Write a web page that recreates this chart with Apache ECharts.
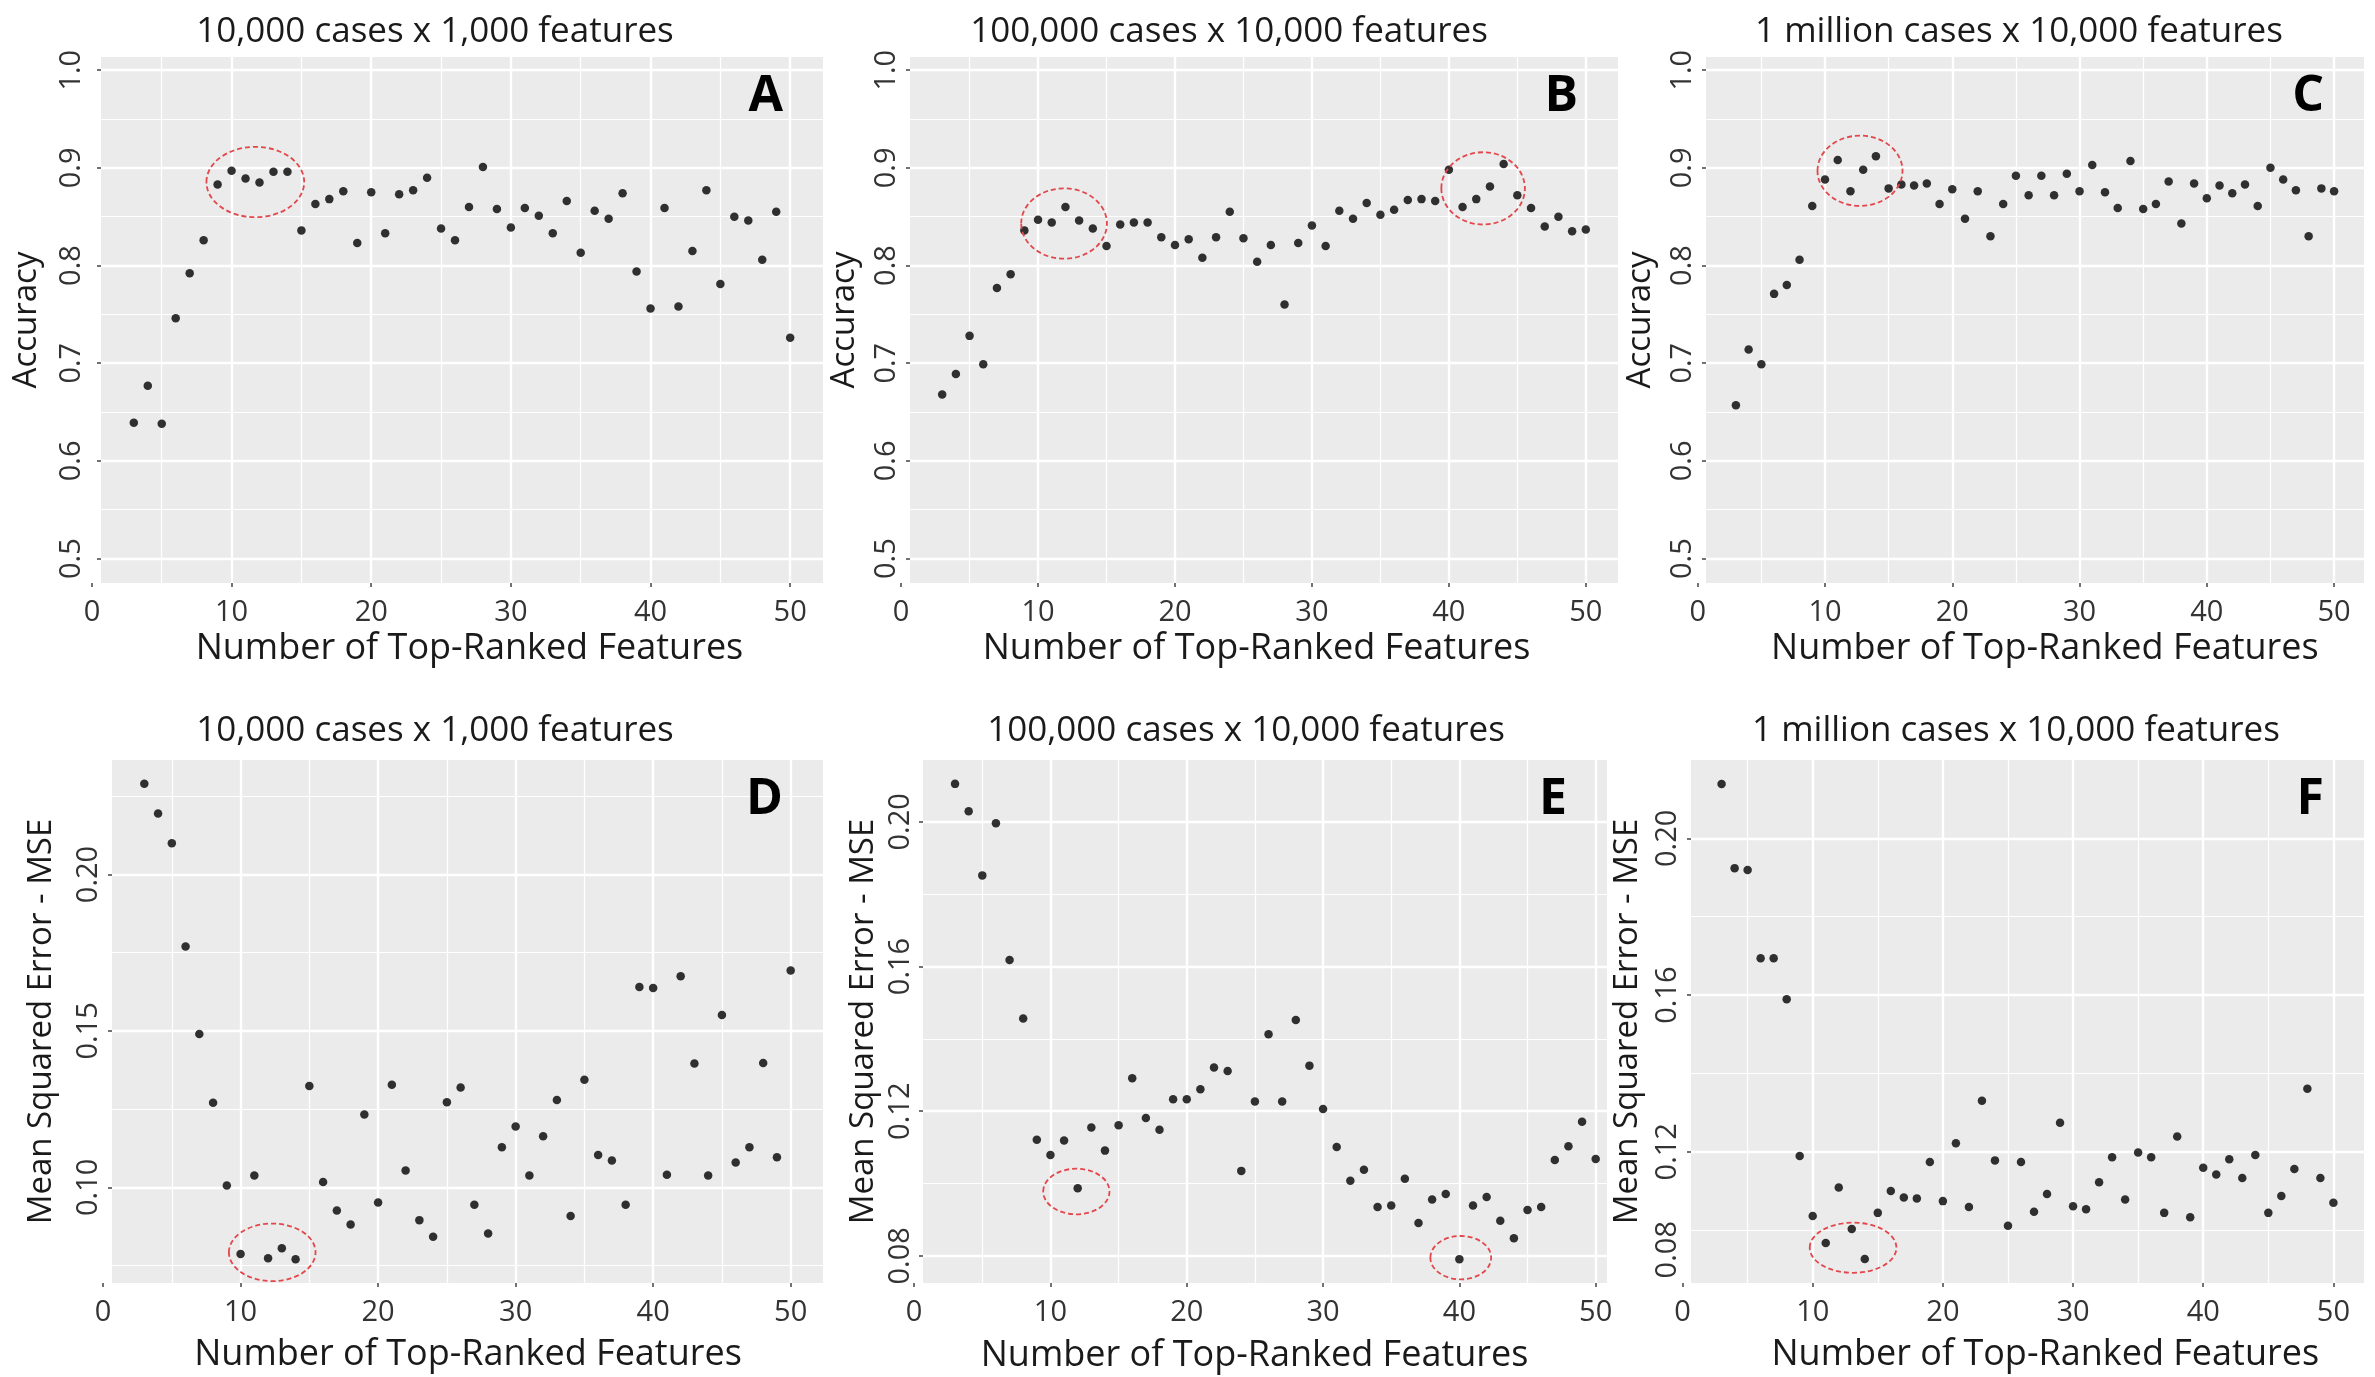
<!DOCTYPE html>
<html>
<head>
<meta charset="utf-8">
<script src="https://cdn.jsdelivr.net/npm/echarts@6/dist/echarts.min.js"></script>
<style>
  html, body { margin: 0; padding: 0; background: #ffffff; }
  #chart { width: 2375px; height: 1377px; }
</style>
</head>
<body>
<div id="chart"></div>
<script>
// number of top-ranked features (x of every panel)
const features = [3, 4, 5, 6, 7, 8, 9, 10, 11, 12, 13, 14, 15, 16, 17, 18, 19, 20, 21, 22, 23, 24, 25, 26,
                  27, 28, 29, 30, 31, 32, 33, 34, 35, 36, 37, 38, 39, 40, 41, 42, 43, 44, 45, 46, 47, 48, 49, 50];

// accuracy, top row
const accuracyA = [0.639, 0.677, 0.638, 0.746, 0.792, 0.826, 0.883, 0.897, 0.889, 0.885, 0.896, 0.896,
                   0.836, 0.863, 0.868, 0.876, 0.823, 0.875, 0.833, 0.873, 0.877, 0.890, 0.838, 0.826,
                   0.860, 0.901, 0.858, 0.839, 0.859, 0.851, 0.833, 0.866, 0.813, 0.856, 0.848, 0.874,
                   0.794, 0.756, 0.859, 0.758, 0.815, 0.877, 0.781, 0.850, 0.846, 0.806, 0.855, 0.726];
const accuracyB = [0.668, 0.689, 0.728, 0.699, 0.777, 0.791, 0.836, 0.847, 0.844, 0.860, 0.846, 0.838,
                   0.820, 0.842, 0.844, 0.844, 0.829, 0.821, 0.827, 0.808, 0.829, 0.855, 0.828, 0.804,
                   0.821, 0.760, 0.823, 0.841, 0.820, 0.856, 0.848, 0.864, 0.852, 0.857, 0.867, 0.868,
                   0.866, 0.898, 0.860, 0.868, 0.881, 0.904, 0.872, 0.859, 0.840, 0.850, 0.835, 0.837];
const accuracyC = [0.657, 0.714, 0.699, 0.771, 0.780, 0.806, 0.861, 0.888, 0.908, 0.876, 0.898, 0.912,
                   0.879, 0.883, 0.882, 0.884, 0.863, 0.878, 0.848, 0.876, 0.830, 0.863, 0.892, 0.872,
                   0.892, 0.872, 0.894, 0.876, 0.903, 0.875, 0.859, 0.907, 0.858, 0.863, 0.886, 0.843,
                   0.884, 0.869, 0.882, 0.874, 0.883, 0.861, 0.900, 0.888, 0.877, 0.830, 0.879, 0.876];

// mean squared error, bottom row
const mseD = [0.2290, 0.2195, 0.2100, 0.1770, 0.1490, 0.1270, 0.1006, 0.0787, 0.1038, 0.0773, 0.0805, 0.0770,
              0.1324, 0.1017, 0.0926, 0.0881, 0.1233, 0.0951, 0.1328, 0.1054, 0.0895, 0.0842, 0.1272, 0.1319,
              0.0944, 0.0852, 0.1128, 0.1194, 0.1038, 0.1163, 0.1279, 0.0908, 0.1344, 0.1103, 0.1086, 0.0944,
              0.1640, 0.1637, 0.1040, 0.1675, 0.1396, 0.1038, 0.1551, 0.1079, 0.1128, 0.1397, 0.1096, 0.1693];
const mseE = [0.2105, 0.2029, 0.1852, 0.1996, 0.1618, 0.1456, 0.1121, 0.1079, 0.1119, 0.0987, 0.1155, 0.1091,
              0.1161, 0.1291, 0.1181, 0.1149, 0.1233, 0.1233, 0.1261, 0.1321, 0.1311, 0.1035, 0.1227, 0.1413,
              0.1227, 0.1452, 0.1326, 0.1206, 0.1101, 0.1008, 0.1038, 0.0935, 0.0939, 0.1013, 0.0891, 0.0956,
              0.0971, 0.0791, 0.0939, 0.0963, 0.0897, 0.0849, 0.0927, 0.0935, 0.1065, 0.1103, 0.1171, 0.1068];
const mseF = [0.2139, 0.1924, 0.1919, 0.1694, 0.1694, 0.1589, 0.1189, 0.1036, 0.0967, 0.1109, 0.1003, 0.0926,
              0.1044, 0.1100, 0.1083, 0.1081, 0.1174, 0.1074, 0.1222, 0.1059, 0.1330, 0.1178, 0.1011, 0.1174,
              0.1047, 0.1092, 0.1274, 0.1061, 0.1053, 0.1122, 0.1186, 0.1078, 0.1198, 0.1186, 0.1044, 0.1239,
              0.1033, 0.1159, 0.1142, 0.1181, 0.1133, 0.1192, 0.1044, 0.1087, 0.1156, 0.1361, 0.1133, 0.1070];

// red dashed rings: [centre x, centre y, radius x, radius y] in data units
const ringsA = [[11.7, 0.8855, 3.5, 0.036]];
const ringsB = [[11.9, 0.843, 3.13, 0.036], [42.5, 0.879, 3.05, 0.037]];
const ringsC = [[12.75, 0.897, 3.34, 0.036]];
const ringsD = [[12.3, 0.0792, 3.15, 0.0092]];
const ringsE = [[11.9, 0.0978, 2.43, 0.0063], [40.1, 0.0795, 2.23, 0.006]];
const ringsF = [[13.1, 0.0955, 3.33, 0.0064]];

// ticks and grid lines
const featureTicks = [0, 10, 20, 30, 40, 50];
const featureMajor = [10, 20, 30, 40, 50];
const featureMinor = [5, 15, 25, 35, 45];
const accMajor = [0.5, 0.6, 0.7, 0.8, 0.9, 1.0];
const accMinor = [0.55, 0.65, 0.75, 0.85, 0.95];
const mseMajorD = [0.10, 0.15, 0.20];
const mseMinorD = [0.075, 0.125, 0.175, 0.225];
const mseMajorE = [0.08, 0.12, 0.16, 0.20];
const mseMinorE = [0.10, 0.14, 0.18];
const mseMajorF = [0.12, 0.16, 0.20];
const mseMinorF = [0.10, 0.14, 0.18];
// panel F prints its lowest label a bit above the panel bottom
const mseLabelsF = [0.095, 0.12, 0.16, 0.20];
const mseLabelTextF = ['0.08', '0.12', '0.16', '0.20'];

const titles = ['10,000 cases x 1,000 features', '100,000 cases x 10,000 features', '1 million cases x 10,000 features',
                '10,000 cases x 1,000 features', '100,000 cases x 10,000 features', '1 million cases x 10,000 features'];
const letters = ['A', 'B', 'C', 'D', 'E', 'F'];

const FONT = '"Open Sans", "Noto Sans", sans-serif';
const X_EDGE = 0.65;   // left end of the grey panel, in feature units

const panels = [
  {vals: accuracyA, rings: ringsA, yName: 'Accuracy', yMin: 0.475, yMax: 1.0135, yMajor: accMajor, yMinor: accMinor, yLabels: accMajor, digits: 1,
   box: {left: 101, right: 823, top: 57, bottom: 583}, xMax: 52.35, labelMargin: 15, nameGap: 58, xNameGap: 48, xNameShift: 12, titleX: 435, titleY: 32},
  {vals: accuracyB, rings: ringsB, yName: 'Accuracy', yMin: 0.475, yMax: 1.0135, yMajor: accMajor, yMinor: accMinor, yLabels: accMajor, digits: 1,
   box: {left: 910, right: 1618, top: 57, bottom: 583}, xMax: 52.35, labelMargin: 9, nameGap: 49, xNameGap: 48, xNameShift: -3, titleX: 1229, titleY: 32},
  {vals: accuracyC, rings: ringsC, yName: 'Accuracy', yMin: 0.475, yMax: 1.0135, yMajor: accMajor, yMinor: accMinor, yLabels: accMajor, digits: 1,
   box: {left: 1706, right: 2364, top: 57, bottom: 583}, xMax: 52.35, labelMargin: 9, nameGap: 49, xNameGap: 48, xNameShift: 14, titleX: 2019, titleY: 32},
  {vals: mseD, rings: ringsD, yName: 'Mean Squared Error - MSE', yMin: 0.0694, yMax: 0.2366, yMajor: mseMajorD, yMinor: mseMinorD, yLabels: mseMajorD, digits: 2,
   box: {left: 112, right: 823, top: 760, bottom: 1283}, xMax: 52.35, labelMargin: 9, nameGap: 54, xNameGap: 54, xNameShift: 5, titleX: 435, titleY: 731},
  {vals: mseE, rings: ringsE, yName: 'Mean Squared Error - MSE', yMin: 0.0725, yMax: 0.2171, yMajor: mseMajorE, yMinor: mseMinorE, yLabels: mseMajorE, digits: 2,
   box: {left: 923, right: 1607, top: 760, bottom: 1283}, xMax: 50.83, labelMargin: 8, nameGap: 43, xNameGap: 55, xNameShift: -6, titleX: 1246, titleY: 731},
  {vals: mseF, rings: ringsF, yName: 'Mean Squared Error - MSE', yMin: 0.0865, yMax: 0.2200, yMajor: mseMajorF, yMinor: mseMinorF, yLabels: mseLabelsF, labelText: mseLabelTextF, digits: 2,
   box: {left: 1691, right: 2364, top: 760, bottom: 1283}, xMax: 52.35, labelMargin: 9, nameGap: 47, xNameGap: 54, xNameShift: 22, titleX: 2016, titleY: 731}
];

const grid = [], xAxis = [], yAxis = [], series = [], title = [];

panels.forEach((p, i) => {
  const b = p.box;
  const s = (b.right - b.left) / (p.xMax - X_EDGE);
  const x0 = b.left - X_EDGE * s;   // pixel of feature 0, left of the grey panel
  const shift = p.xNameShift;

  grid.push({left: x0, top: b.top, width: b.right - x0, height: b.bottom - b.top, outerBoundsMode: 'none', containLabel: false});

  xAxis.push({
    type: 'value', gridIndex: i, min: 0, max: p.xMax,
    axisLine: {show: false, onZero: false},
    axisTick: {show: true, customValues: featureTicks, length: 4, lineStyle: {color: '#444', width: 1.5}},
    axisLabel: {customValues: featureTicks, margin: 15, fontSize: 29, color: '#333', fontFamily: FONT},
    splitLine: {show: false},
    name: 'Number of Top-Ranked Features', nameLocation: 'middle', nameGap: p.xNameGap,
    nameTextStyle: {fontSize: 36, color: '#1a1a1a', fontFamily: FONT,
      padding: shift > 0 ? [0, 0, 0, 2 * shift] : [0, -2 * shift, 0, 0]}
  });

  yAxis.push({
    type: 'value', gridIndex: i, min: p.yMin, max: p.yMax, offset: -(b.left - x0),
    axisLine: {show: false, onZero: false},
    axisTick: {show: true, customValues: p.yMajor, length: 4, lineStyle: {color: '#444', width: 1.5}},
    axisLabel: {
      customValues: p.yLabels, rotate: 90, margin: p.labelMargin, fontSize: 29, color: '#333', fontFamily: FONT,
      formatter: v => {
        if (p.labelText) {
          const k = p.yLabels.findIndex(t => Math.abs(t - v) < 1e-6);
          if (k >= 0) return p.labelText[k];
        }
        return v.toFixed(p.digits);
      }
    },
    splitLine: {show: false},
    name: p.yName, nameLocation: 'middle', nameRotate: 90, nameGap: p.nameGap,
    nameTextStyle: {fontSize: 33, color: '#1a1a1a', fontFamily: FONT}
  });

  // grey panel
  series.push({
    type: 'scatter', xAxisIndex: i, yAxisIndex: i, data: [], z: 1, silent: true,
    markArea: {silent: true, z: 1, itemStyle: {color: '#EBEBEB'}, label: {show: false},
      data: [[{coord: [X_EDGE, p.yMin]}, {coord: [p.xMax, p.yMax]}]]}
  });

  // white grid lines
  const lines = [];
  const vLine = (x, w) => [{coord: [x, p.yMin], lineStyle: {width: w}}, {coord: [x, p.yMax]}];
  const hLine = (y, w) => [{coord: [X_EDGE, y], lineStyle: {width: w}}, {coord: [p.xMax, y]}];
  featureMinor.forEach(v => lines.push(vLine(v, 1.2)));
  p.yMinor.forEach(v => { if (v > p.yMin && v < p.yMax) lines.push(hLine(v, 1.2)); });
  featureMajor.forEach(v => { if (v < p.xMax) lines.push(vLine(v, 2.4)); });
  p.yMajor.forEach(v => lines.push(hLine(v, 2.4)));
  series.push({
    type: 'scatter', xAxisIndex: i, yAxisIndex: i, data: [], z: 2, silent: true,
    markLine: {silent: true, z: 2, symbol: ['none', 'none'], label: {show: false},
      lineStyle: {color: '#ffffff', type: 'solid', width: 2.4}, emphasis: {disabled: true}, data: lines}
  });

  // points
  series.push({
    type: 'scatter', xAxisIndex: i, yAxisIndex: i, z: 6, symbolSize: 8.5,
    itemStyle: {color: '#000000'},
    data: features.map((x, j) => [x, p.vals[j]])
  });

  // red dashed rings
  series.push({
    type: 'custom', xAxisIndex: i, yAxisIndex: i, z: 7, silent: true,
    data: p.rings,
    renderItem: (params, api) => {
      const c = api.coord([api.value(0), api.value(1)]);
      const e = api.coord([api.value(0) + api.value(2), api.value(1) + api.value(3)]);
      return {
        type: 'ellipse',
        shape: {cx: c[0], cy: c[1], rx: Math.abs(e[0] - c[0]), ry: Math.abs(c[1] - e[1])},
        style: {fill: 'none', stroke: '#E2474B', lineWidth: 1.8, lineDash: [5, 3]}
      };
    }
  });

  title.push({
    text: titles[i], left: p.titleX, top: p.titleY, textAlign: 'center', textVerticalAlign: 'middle', padding: 0,
    textStyle: {fontFamily: FONT, fontSize: 35, fontWeight: 'normal', color: '#1a1a1a'}
  });
  title.push({
    text: letters[i], left: b.right - 40, top: b.top + 40, textAlign: 'right', textVerticalAlign: 'middle', padding: 0,
    textStyle: {fontFamily: FONT, fontSize: 50, fontWeight: 'bold', color: '#000000'}
  });
});

const chart = echarts.init(document.getElementById('chart'));
chart.setOption({
  animation: false,
  backgroundColor: '#ffffff',
  title: title,
  grid: grid,
  xAxis: xAxis,
  yAxis: yAxis,
  series: series
});
</script>
</body>
</html>
